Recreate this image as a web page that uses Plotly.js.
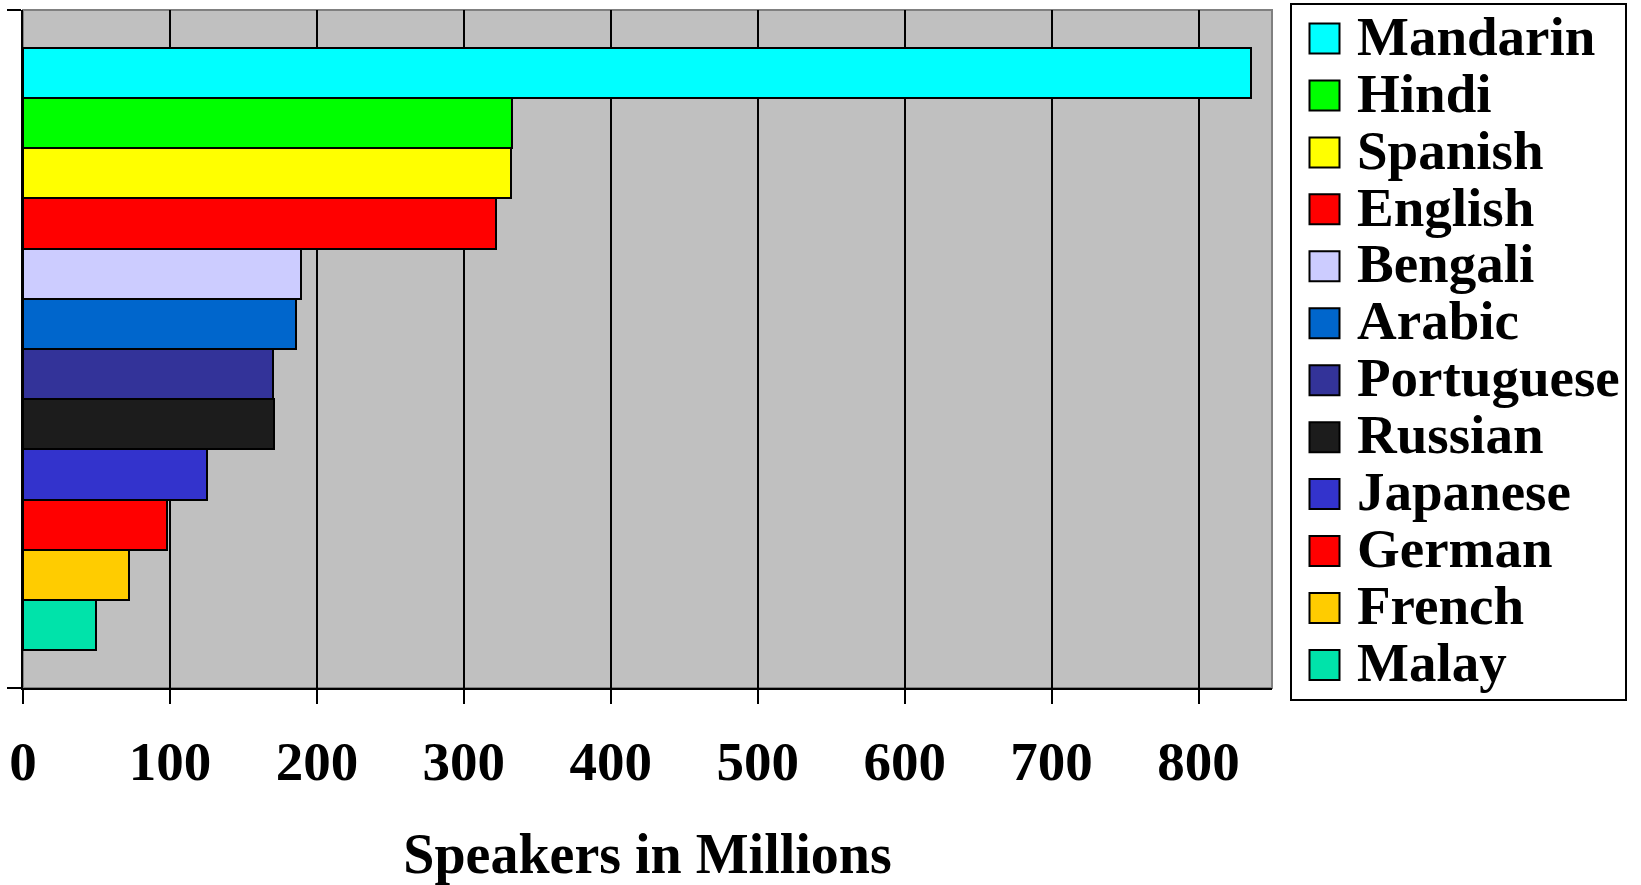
<!DOCTYPE html>
<html>
<head>
<meta charset="utf-8">
<script src="https://cdn.plot.ly/plotly-3.0.1.min.js"></script>
<style>
  html, body { margin: 0; padding: 0; background: #ffffff; }
  #chart { width: 1641px; height: 885px; }
  .legend .legendpoints path { d: path("M15,15H-15V-15H15Z"); stroke-width: 2px !important; }
</style>
</head>
<body>
<div id="chart"></div>
<script>
// Data
const languages = ["Mandarin", "Hindi", "Spanish", "English", "Bengali", "Arabic",
                   "Portuguese", "Russian", "Japanese", "German", "French", "Malay"];
const speakers  = [836, 333, 332, 322, 189, 186, 170, 171, 125, 98, 72, 50];
const barColors = ["#00FFFF", "#00FF00", "#FFFF00", "#FF0000", "#CCCCFF", "#0066CC",
                   "#333399", "#1C1C1C", "#3333CC", "#FF0000", "#FFCC00", "#00E3AA"];
const xTicks = [0, 100, 200, 300, 400, 500, 600, 700, 800];
const xTitle = "Speakers in Millions";

const FONT = "'Liberation Serif', 'Times New Roman', Times, serif";

const traces = languages.map((name, i) => ({
  type: "bar",
  orientation: "h",
  name: '<span style="font-size:55px">' + name + '</span>',
  y: [i],
  x: [speakers[i]],
  width: 1,
  marker: { color: barColors[i], line: { color: "#000000", width: 2 } },
  hoverinfo: "x"
}));

const layout = {
  width: 1641,
  height: 885,
  margin: { l: 23, r: 369, t: 10, b: 197 },
  paper_bgcolor: "#ffffff",
  plot_bgcolor: "#C0C0C0",
  barmode: "overlay",
  bargap: 0,
  font: { family: FONT, color: "#000000", weight: "bold" },
  xaxis: {
    range: [0, 850],
    tickvals: xTicks,
    ticktext: xTicks.map(String),
    showgrid: true,
    gridcolor: "#000000",
    gridwidth: 2,
    zeroline: false,
    showline: true,
    linecolor: "#000000",
    linewidth: 2,
    ticks: "outside",
    ticklen: 14,
    tickwidth: 2,
    tickcolor: "#000000",
    ticklabelstandoff: 10,
    automargin: false,
    tickfont: { family: FONT, size: 55, color: "#000000", weight: "bold" },
    title: { text: xTitle, standoff: 43, font: { family: FONT, size: 56, color: "#000000", weight: "bold" } },
    fixedrange: true
  },
  yaxis: {
    range: [12.25, -1.25],
    tickvals: [-1.249, 12.249],
    showticklabels: false,
    showgrid: false,
    zeroline: false,
    showline: true,
    linecolor: "#000000",
    linewidth: 2,
    ticks: "outside",
    ticklen: 14,
    tickwidth: 2,
    tickcolor: "#000000",
    automargin: false,
    fixedrange: true
  },
  legend: {
    xref: "container",
    yref: "container",
    x: 1290 / 1641,
    xanchor: "left",
    y: 1 - 3 / 885,
    yanchor: "top",
    maxheight: 880,
    itemwidth: 55,
    bgcolor: "#ffffff",
    bordercolor: "#000000",
    borderwidth: 2,
    font: { family: FONT, size: 41.5, color: "#000000", weight: "bold" },
    itemclick: false,
    itemdoubleclick: false
  },
  shapes: [{
    type: "rect", xref: "paper", yref: "paper",
    x0: 0, x1: 1, y0: 0, y1: 1,
    line: { color: "#808080", width: 2 },
    layer: "below"
  }],
  showlegend: true
};

const gd = document.getElementById("chart");
function enlargeLegendSymbols() {
  gd.querySelectorAll(".legend .legendpoints path").forEach(p => {
    p.setAttribute("d", "M15,15H-15V-15H15Z");
  });
}
Plotly.newPlot(gd, traces, layout, { displayModeBar: false }).then(() => {
  enlargeLegendSymbols();
  gd.on("plotly_afterplot", enlargeLegendSymbols);
});
</script>
</body>
</html>
